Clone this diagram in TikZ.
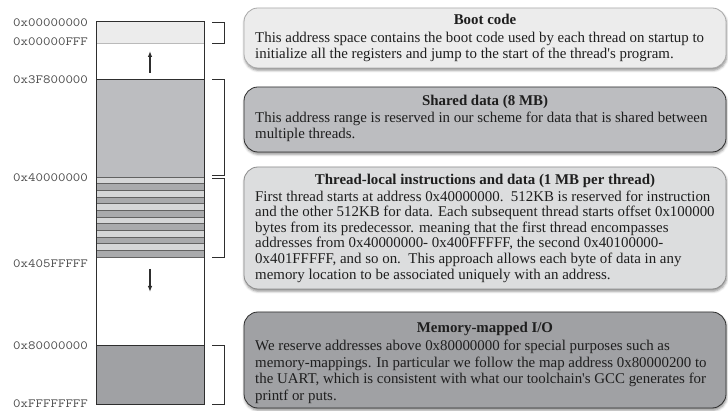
\documentclass[tikz,border=0pt]{standalone}
\usepackage{fontspec}
\newfontfamily\descfont{Liberation Serif}
\usetikzlibrary{arrows.meta,shadows.blur}

\definecolor{inkdark}{HTML}{2E2E2E}
\definecolor{textink}{HTML}{1E1E1E}
\definecolor{addrink}{HTML}{4A4A4A}
\definecolor{bootfill}{HTML}{ECECEC}
\definecolor{bootline}{HTML}{A9A9A9}
\definecolor{sharedfill}{HTML}{BCBDC0}
\definecolor{threadfill}{HTML}{DCDDDE}
\definecolor{threadline}{HTML}{8C8C8C}
\definecolor{mmiofill}{HTML}{A0A1A4}
\definecolor{stripelight}{HTML}{D5D6D7}
\definecolor{stripemid}{HTML}{A9AAAC}
\definecolor{stripeline}{HTML}{626262}

\tikzset{
  addr/.style={font=\ttfamily\fontsize{12.5}{12.5}\selectfont, text=addrink,
    anchor=west, inner sep=0pt, xscale=1.16, transform shape},
  infobox/.style={rounded corners=14pt, line width=0.8pt,
    minimum width=482pt, inner sep=0pt,
    blur shadow={shadow xshift=0.6pt, shadow yshift=-2.2pt,
      shadow blur radius=2.5pt, shadow opacity=45}},
  boxtitle/.style={font=\descfont\bfseries\fontsize{14.9}{16}\selectfont, text=textink,
    anchor=base, inner sep=0pt},
  boxbody/.style={font=\descfont\fontsize{14.9}{16}\selectfont, text=textink,
    align=left, anchor=north west, inner sep=0pt},
  bracket/.style={draw=inkdark, line width=0.9pt},
  memarrow/.style={draw=inkdark, line width=1.1pt,
    -{Latex[length=6pt,width=4.5pt]}},
}

\begin{document}
\begin{tikzpicture}[x=1pt,y=-1pt]
\useasboundingbox (0,0) rectangle (728,411);

% ---- memory column ----
\fill[bootfill] (96,22) rectangle (204,43);
\draw[draw=bootline!80, line width=0.8pt] (96,43) -- (204,43);
\filldraw[fill=sharedfill, draw=inkdark, line width=0.9pt] (96,79) rectangle (204,177);
% per-thread stripes: instruction half (light) and data half (darker)
\foreach \i in {0,...,5}{
  \filldraw[fill=stripelight, draw=stripeline, line width=0.7pt]
    (96,{177+13.333*\i}) rectangle (204,{177+13.333*\i+6.667});
  \filldraw[fill=stripemid, draw=stripeline, line width=0.7pt]
    (96,{177+13.333*\i+6.667}) rectangle (204,{177+13.333*(\i+1)});
}
\filldraw[fill=mmiofill, draw=inkdark, line width=0.9pt] (96,345) rectangle (204,404);
\draw[draw=inkdark, line width=1pt] (96,22) rectangle (204,404);

% growth arrows
\coordinate (upfrom) at (150,73);
\coordinate (upto) at (150,51);
\draw[memarrow] (upfrom) -- (upto);
\coordinate (downfrom) at (150,269);
\coordinate (downto) at (150,292);
\draw[memarrow] (downfrom) -- (downto);

% address labels
\node[addr] (a0) at (13,23) {0x00000000};
\node[addr] (a1) at (13,42) {0x00000FFF};
\node[addr] (a2) at (13,80) {0x3F800000};
\node[addr] (a3) at (13,178) {0x40000000};
\node[addr] (a4) at (13,264) {0x405FFFFF};
\node[addr] (a5) at (13,346) {0x80000000};
\node[addr] (a6) at (13,404) {0xFFFFFFFF};

% brackets
\draw[bracket] (212,22) -- (224,22) -- (224,43) -- (212,43);
\draw[bracket] (212,79) -- (224,79) -- (224,175) -- (212,175);
\draw[bracket] (212,178) -- (224,178) -- (224,257) -- (212,257);
\draw[bracket] (212,345) -- (224,345) -- (224,404) -- (212,404);

% ---- descriptions ----
\node[infobox, fill=bootfill, draw=bootline, minimum height=60pt] (boot) at (485,38) {};
\node[boxtitle] (boott) at (485,24.5) {Boot code};
\node[boxbody] (bootb) at (255,32.3) {This address space contains the boot code used by each thread on startup to\\
initialize all the registers and jump to the start of the thread's program.};

\node[infobox, fill=sharedfill, draw=inkdark, minimum height=65pt] (shared) at (485,119.5) {};
\node[boxtitle] (sharedt) at (485,105.5) {Shared data (8 MB)};
\node[boxbody] (sharedb) at (255,112.3) {This address range is reserved in our scheme for data that is shared between\\
multiple threads.};

\node[infobox, fill=threadfill, draw=threadline, minimum height=122pt] (thread) at (485,228) {};
\node[boxtitle] (threadt) at (485,184.5) {Thread-local instructions and data (1 MB per thread)};
\node[boxbody, font=\descfont\fontsize{14.9}{15.6}\selectfont] (threadb) at (255,190.5) {First thread starts at address 0x40000000.~~512KB is reserved for instruction\\
and the other 512KB for data. Each subsequent thread starts offset 0x100000\\
bytes from its predecessor. meaning that the first thread encompasses\\
addresses from 0x40000000- 0x400FFFFF, the second 0x40100000-\\
0x401FFFFF, and so on.~~This approach allows each byte of data in any\\
memory location to be associated uniquely with an address.};

\node[infobox, fill=mmiofill, draw=inkdark, minimum height=96pt] (mmio) at (485,360) {};
\node[boxtitle] (mmiot) at (485,333) {Memory-mapped I/O};
\node[boxbody, font=\descfont\fontsize{14.9}{16.5}\selectfont] (mmiob) at (255,340.3) {We reserve addresses above 0x80000000 for special purposes such as\\
memory-mappings. In particular we follow the map address 0x80000200 to\\
the UART, which is consistent with what our toolchain's GCC generates for\\
printf or puts.};
\end{tikzpicture}
\end{document}
